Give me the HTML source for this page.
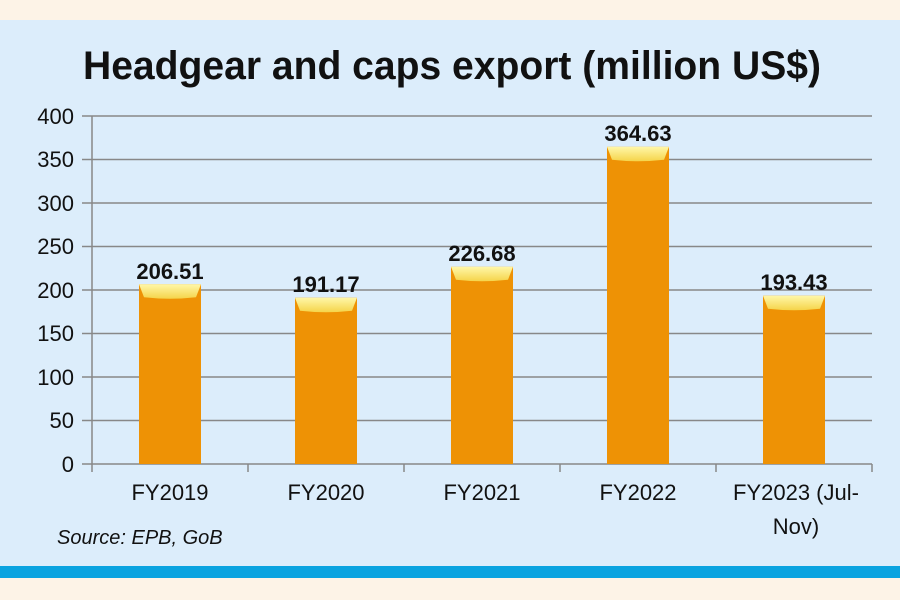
<!DOCTYPE html><html><head><style>body{margin:0}</style></head><body>
<svg width="900" height="600" xmlns="http://www.w3.org/2000/svg" font-family="Liberation Sans, sans-serif">
<defs><linearGradient id="cap" x1="0" y1="0" x2="0" y2="1"><stop offset="0" stop-color="#fff7a8"/><stop offset="1" stop-color="#f5d44a"/></linearGradient></defs>
<rect width="900" height="600" fill="#fdf3e7"/>
<rect y="20" width="900" height="546" fill="#dcedfb"/>
<rect y="566" width="900" height="12" fill="#0aa3e0"/>
<text x="83" y="79" font-size="40" font-weight="bold" fill="#111" textLength="738" lengthAdjust="spacingAndGlyphs">Headgear and caps export (million US$)</text>
<g stroke="#888" stroke-width="1.5">
<line x1="82" y1="116" x2="872" y2="116"/><line x1="82" y1="159.5" x2="872" y2="159.5"/><line x1="82" y1="203" x2="872" y2="203"/><line x1="82" y1="246.5" x2="872" y2="246.5"/><line x1="82" y1="290" x2="872" y2="290"/><line x1="82" y1="333.5" x2="872" y2="333.5"/><line x1="82" y1="377" x2="872" y2="377"/><line x1="82" y1="420.5" x2="872" y2="420.5"/><line x1="82" y1="464" x2="872" y2="464"/>
<line x1="92" y1="116" x2="92" y2="472"/>
<line x1="248" y1="464" x2="248" y2="472"/><line x1="404" y1="464" x2="404" y2="472"/><line x1="560" y1="464" x2="560" y2="472"/><line x1="716" y1="464" x2="716" y2="472"/><line x1="872" y1="464" x2="872" y2="472"/>
</g>
<g font-size="22" fill="#111" text-anchor="end">
<text x="74" y="124">400</text><text x="74" y="167">350</text><text x="74" y="211">300</text><text x="74" y="254">250</text><text x="74" y="298">200</text><text x="74" y="341">150</text><text x="74" y="385">100</text><text x="74" y="428">50</text><text x="74" y="472">0</text>
</g>
<g fill="#ee9205">
<rect x="139" y="284.3" width="62" height="179.7"/><rect x="295" y="297.7" width="62" height="166.3"/><rect x="451" y="266.8" width="62" height="197.2"/><rect x="607" y="146.8" width="62" height="317.2"/><rect x="763" y="295.7" width="62" height="168.3"/>
</g>
<g fill="url(#cap)">
<path d="M139 284.3h62l-5 13q-26 3-52 0z"/><path d="M295 297.7h62l-5 13q-26 3-52 0z"/><path d="M451 266.8h62l-5 13q-26 3-52 0z"/><path d="M607 146.8h62l-5 13q-26 3-52 0z"/><path d="M763 295.7h62l-5 13q-26 3-52 0z"/>
</g>
<g font-size="22" font-weight="bold" fill="#111" text-anchor="middle">
<text x="170" y="279">206.51</text><text x="326" y="292">191.17</text><text x="482" y="261">226.68</text><text x="638" y="141">364.63</text><text x="794" y="290">193.43</text>
</g>
<g font-size="22" fill="#111" text-anchor="middle">
<text x="170" y="500">FY2019</text><text x="326" y="500">FY2020</text><text x="482" y="500">FY2021</text><text x="638" y="500">FY2022</text><text x="796" y="500">FY2023 (Jul-</text><text x="796" y="534">Nov)</text>
</g>
<text x="57" y="544" font-size="20" font-style="italic" fill="#111">Source: EPB, GoB</text>
</svg></body></html>
